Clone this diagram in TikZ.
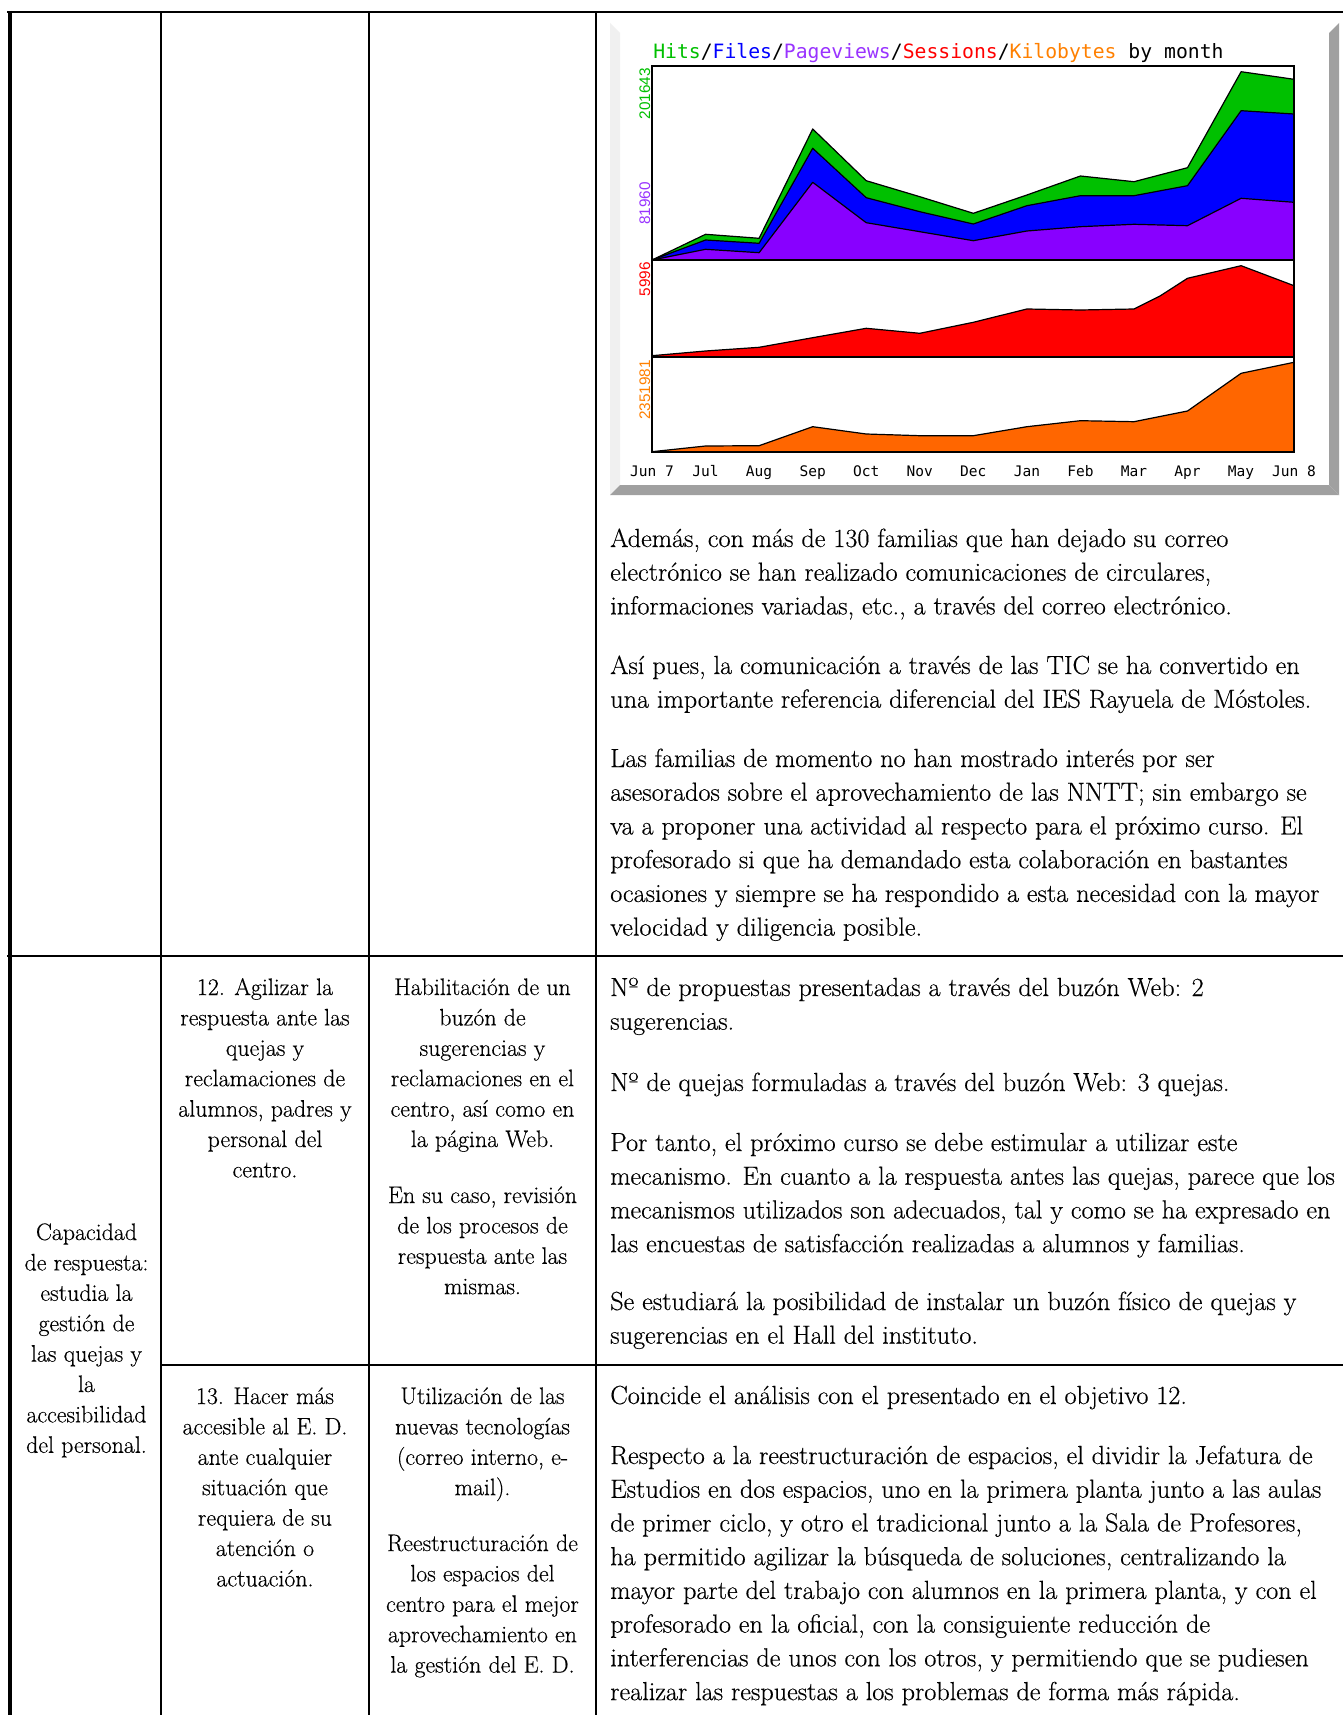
\documentclass[tikz,border=0pt]{standalone}
\usepackage{fontspec}
\setmainfont{Latin Modern Roman}[FakeBold=0.35]
\newfontfamily\monof{DejaVu Sans Mono}
\newfontfamily\sansf{Liberation Sans}
\definecolor{hitsc}{HTML}{00C000}
\definecolor{filesc}{HTML}{0000FF}
\definecolor{pagec}{HTML}{8800FF}
\definecolor{pagetxt}{HTML}{9933FF}
\definecolor{sessc}{HTML}{FF0000}
\definecolor{kbc}{HTML}{FF6600}
\definecolor{kbtxt}{HTML}{FF8000}
\definecolor{bevlight}{HTML}{F0F0F0}
\definecolor{bevdark}{HTML}{A0A0A0}
\newcommand\Lft[1]{\vtop{\fontsize{19.65}{25.3}\selectfont\lineskiplimit=-100pt\halign{##\hfil\cr#1\crcr}}}
\newcommand\Ctr[1]{\vtop{\fontsize{17.9}{22.8}\selectfont\lineskiplimit=-100pt\halign{\hfil##\hfil\cr#1\crcr}}}
\tikzset{
  gridline/.style={line width=1.5pt, line cap=rect},
  lborder/.style={line width=3pt},
  ltext/.style={inner sep=0pt, anchor=base west},
  ctext/.style={inner sep=0pt, anchor=base},
  series/.style={draw=black, line width=0.9pt, line join=round},
  axislab/.style={inner sep=0pt, anchor=base east, rotate=90, font=\sansf\fontsize{11.5}{12}\selectfont},
  monthlab/.style={inner sep=0pt, anchor=base, font=\monof\fontsize{10.9}{12}\selectfont},
}
\begin{document}
\begin{tikzpicture}[x=0.75pt,y=-0.75pt]
\useasboundingbox (0,0) rectangle (1342,1715);
\fill[white] (0,0) rectangle (1342,1715);

% ---------- chart panel ----------
\fill[bevlight] (610,23) -- (620,33) -- (620,485) -- (610,495) -- cycle;
\fill[bevdark] (1339,23) -- (1339,495) -- (1329,485) -- (1329,33) -- cycle;
\fill[bevdark] (610,495) -- (620,485) -- (1329,485) -- (1339,495) -- cycle;

\node[ltext, font=\monof\fontsize{14.8}{18}\selectfont] (title) at (653,59)
  {\textcolor{hitsc}{Hits}/\textcolor{filesc}{Files}/\textcolor{pagetxt}{Pageviews}/\textcolor{sessc}{Sessions}/\textcolor{kbtxt}{Kilobytes} by month};

% top section
\draw[series, fill=hitsc] (652,260) -- (705.6,234.3) -- (759.1,238.3) -- (812.7,129) -- (866.2,180.7) -- (919.8,196.7) -- (973.3,213.3) -- (1026.9,195) -- (1080.4,176) -- (1134,181.7) -- (1187.5,167.7) -- (1241.1,71.7) -- (1294,79.3) -- (1294,260) -- cycle;
\draw[series, fill=filesc] (652,260) -- (705.6,240) -- (759.1,243.3) -- (812.7,148.3) -- (866.2,197.7) -- (919.8,211.7) -- (973.3,224) -- (1026.9,205.7) -- (1080.4,195.7) -- (1134,195.7) -- (1187.5,185.7) -- (1241.1,110.7) -- (1294,114) -- (1294,260) -- cycle;
\draw[series, fill=pagec] (652,260) -- (705.6,249.3) -- (759.1,252.7) -- (812.7,182.3) -- (866.2,222.7) -- (919.8,231.7) -- (973.3,240.7) -- (1026.9,231) -- (1080.4,226.7) -- (1134,224.3) -- (1187.5,225.7) -- (1241.1,198.3) -- (1294,202.3) -- (1294,260) -- cycle;
% sessions
\draw[series, fill=sessc] (652,357) -- (652,355.7) -- (705.6,351) -- (759.1,347.3) -- (812.7,337.7) -- (866.2,328.3) -- (919.8,333.3) -- (973.3,322.3) -- (1026.9,309) -- (1080.4,310) -- (1134,309) -- (1160,296) -- (1187.5,278.3) -- (1241.1,265.7) -- (1294,285.7) -- (1294,357) -- cycle;
% kilobytes
\draw[series, fill=kbc] (652,452) -- (652,451.7) -- (705.6,446) -- (759.1,445.7) -- (812.7,426.7) -- (866.2,434) -- (919.8,435.7) -- (973.3,435.7) -- (1026.9,426.7) -- (1080.4,420.7) -- (1134,421.7) -- (1187.5,411) -- (1241.1,373.3) -- (1294,362.3) -- (1294,452) -- cycle;
% frame
\draw[line width=1.1pt] (652,66) rectangle (1294,452);
\draw[line width=1.1pt] (652,260) -- (1294,260);
\draw[line width=1.1pt] (652,357) -- (1294,357);

\node[axislab, text=hitsc] (yhits) at (650,68) {201643};
\node[axislab, text=pagetxt] (ypage) at (650,182) {81960};
\node[axislab, text=sessc] (ysess) at (650,262) {5996};
\node[axislab, text=kbtxt] (ykb) at (650,360) {2351981};

\node[monthlab] (m0) at (652,476) {Jun 7};
\node[monthlab] (m1) at (705.6,476) {Jul};
\node[monthlab] (m2) at (759.1,476) {Aug};
\node[monthlab] (m3) at (812.7,476) {Sep};
\node[monthlab] (m4) at (866.2,476) {Oct};
\node[monthlab] (m5) at (919.8,476) {Nov};
\node[monthlab] (m6) at (973.3,476) {Dec};
\node[monthlab] (m7) at (1026.9,476) {Jan};
\node[monthlab] (m8) at (1080.4,476) {Feb};
\node[monthlab] (m9) at (1134,476) {Mar};
\node[monthlab] (m10) at (1187.5,476) {Apr};
\node[monthlab] (m11) at (1241.1,476) {May};
\node[monthlab] (m12) at (1294,476) {Jun 8};

% ---------- table grid ----------
\draw[gridline] (8,12) -- (1342,12);
\draw[gridline] (8,956) -- (1342,956);
\draw[gridline] (161,1365) -- (1342,1365);
\draw[gridline] (161,12) -- (161,1715);
\draw[gridline] (369,12) -- (369,1715);
\draw[gridline] (596,12) -- (596,1715);
\draw[lborder] (10,10.9) -- (10,1715);

% ---------- row A, column 4 ----------
\node[ltext] (a1) at (610,547) {\Lft{Además, con más de 130 familias que han dejado su correo\cr
electrónico se han realizado comunicaciones de circulares,\cr
informaciones variadas, etc., a través del correo electrónico.}};
\node[ltext] (a2) at (610,674) {\Lft{Así pues, la comunicación a través de las TIC se ha convertido en\cr
una importante referencia diferencial del IES Rayuela de Móstoles.}};
\node[ltext] (a3) at (610,767) {\Lft{Las familias de momento no han mostrado interés por ser\cr
asesorados sobre el aprovechamiento de las NNTT; sin embargo se\cr
va a proponer una actividad al respecto para el próximo curso. El\cr
profesorado si que ha demandado esta colaboración en bastantes\cr
ocasiones y siempre se ha respondido a esta necesidad con la mayor\cr
velocidad y diligencia posible.}};

% ---------- column 1 ----------
\node[ctext] (c1) at (86.5,1240) {\Ctr{Capacidad\cr de respuesta:\cr estudia la\cr gestión de\cr las quejas y\cr la\cr accesibilidad\cr del personal.}};

% ---------- row 12 ----------
\node[ctext] (b2) at (265,995) {\Ctr{12. Agilizar la\cr respuesta ante las\cr quejas y\cr reclamaciones de\cr alumnos, padres y\cr personal del\cr centro.}};
\node[ctext] (b3a) at (482.5,995) {\Ctr{Habilitación de un\cr buzón de\cr sugerencias y\cr reclamaciones en el\cr centro, así como en\cr la página Web.}};
\node[ctext] (b3b) at (482.5,1203) {\Ctr{En su caso, revisión\cr de los procesos de\cr respuesta ante las\cr mismas.}};
\node[ltext] (b4a) at (610,996) {\Lft{Nº de propuestas presentadas a través del buzón Web: 2\cr sugerencias.}};
\node[ltext] (b4b) at (610,1091) {\Lft{Nº de quejas formuladas a través del buzón Web: 3 quejas.}};
\node[ltext] (b4c) at (610,1151) {\Lft{Por tanto, el próximo curso se debe estimular a utilizar este\cr
mecanismo. En cuanto a la respuesta antes las quejas, parece que los\cr
mecanismos utilizados son adecuados, tal y como se ha expresado en\cr
las encuestas de satisfacción realizadas a alumnos y familias.}};
\node[ltext] (b4d) at (610,1310) {\Lft{Se estudiará la posibilidad de instalar un buzón físico de quejas y\cr
sugerencias en el Hall del instituto.}};

% ---------- row 13 ----------
\node[ctext] (r2) at (265,1404) {\Ctr{13. Hacer más\cr accesible al E. D.\cr ante cualquier\cr situación que\cr requiera de su\cr atención o\cr actuación.}};
\node[ctext] (r3a) at (482.5,1404) {\Ctr{Utilización de las\cr nuevas tecnologías\cr (correo interno, e-\cr mail).}};
\node[ctext] (r3b) at (482.5,1551) {\Ctr{Reestructuración de\cr los espacios del\cr centro para el mejor\cr aprovechamiento en\cr la gestión del E. D.}};
\node[ltext] (r4a) at (610,1404) {\Lft{Coincide el análisis con el presentado en el objetivo 12.}};
\node[ltext] (r4b) at (610,1464) {\Lft{Respecto a la reestructuración de espacios, el dividir la Jefatura de\cr
Estudios en dos espacios, uno en la primera planta junto a las aulas\cr
de primer ciclo, y otro el tradicional junto a la Sala de Profesores,\cr
ha permitido agilizar la búsqueda de soluciones, centralizando la\cr
mayor parte del trabajo con alumnos en la primera planta, y con el\cr
profesorado en la oficial, con la consiguiente reducción de\cr
interferencias de unos con los otros, y permitiendo que se pudiesen\cr
realizar las respuestas a los problemas de forma más rápida.}};
\end{tikzpicture}
\end{document}
